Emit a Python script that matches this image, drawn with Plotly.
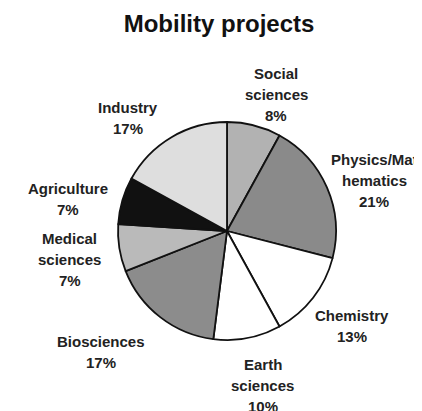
import math

import plotly.graph_objects as go

# data, clockwise from 12 o'clock
fields = ["Social sciences", "Physics/Mathematics", "Chemistry", "Earth sciences",
          "Biosciences", "Medical sciences", "Agriculture", "Industry"]
field_lines = [["Social", "sciences"], ["Physics/Mat", "hematics"], ["Chemistry"],
               ["Earth", "sciences"], ["Biosciences"], ["Medical", "sciences"],
               ["Agriculture"], ["Industry"]]
shares = [8, 21, 13, 10, 17, 7, 7, 17]
fills = ["#b2b2b2", "#8a8a8a", "#ffffff", "#ffffff", "#8c8c8c", "#bababa", "#111111", "#dedede"]

# page body has an 8px margin, so the figure is drawn 8px in from the corner
W, H = 414, 403
cx, cy, r = 219, 223, 109
label_r = 158
# small hand nudges (px) so labels sit like in the original layout
nudge = [(10, 17), (2, 12), (0, -2), (6, -1), (-29, -4), (-1, 4), (-7, 12), (-19, 23)]
line_gap = 21
font = "Liberation Sans, Arial, sans-serif"

fig = go.Figure(
    go.Pie(
        labels=fields,
        values=shares,
        sort=False,
        direction="clockwise",
        rotation=0,
        marker=dict(colors=fills, line=dict(color="#111", width=1.8)),
        textinfo="none",
        hoverinfo="label+percent",
        showlegend=False,
        domain=dict(x=[(cx - r) / W, (cx + r) / W], y=[1 - (cy + r) / H, 1 - (cy - r) / H]),
    )
)

total = sum(shares)
cum = 0
for lines, v, (nx, ny) in zip(field_lines, shares, nudge):
    theta = (cum + v / 2) / total * 2 * math.pi
    cum += v
    px = cx + label_r * math.sin(theta) + nx
    py = cy - label_r * math.cos(theta) + ny
    rows = lines + [f"{v}%"]
    n = len(rows)
    for i, row in enumerate(rows):
        ly = py + (i - (n - 1) / 2) * line_gap
        fig.add_annotation(
            xref="paper", yref="paper",
            x=px / W, y=1 - ly / H,
            text=f"<b>{row}</b>",
            showarrow=False,
            xanchor="center", yanchor="middle",
            font=dict(family=font, size=15, color="#222"),
        )

fig.update_layout(
    width=W,
    height=H,
    margin=dict(l=0, r=0, t=0, b=0),
    paper_bgcolor="#fff",
    plot_bgcolor="#fff",
    title=dict(
        text="<b>Mobility projects</b>",
        x=211 / W, xanchor="center",
        y=1 - 16 / H, yanchor="middle",
        font=dict(family=font, size=24, color="#111"),
    ),
)

fig.write_html("out.html")
